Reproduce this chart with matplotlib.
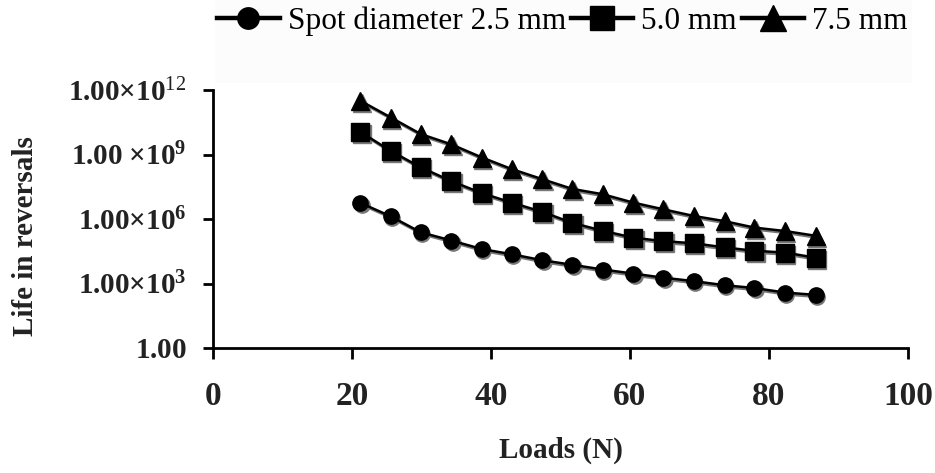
import matplotlib
matplotlib.use("Agg")
import matplotlib.pyplot as plt
import matplotlib.transforms as mtransforms
from matplotlib.patches import Rectangle
from matplotlib.ticker import FixedLocator, NullLocator

plt.rcParams['font.family'] = ['Liberation Serif', 'DejaVu Serif']
plt.rcParams['mathtext.fontset'] = 'custom'
plt.rcParams['mathtext.rm'] = 'Liberation Serif'
plt.rcParams['mathtext.bf'] = 'Liberation Serif:bold'
plt.rcParams['mathtext.it'] = 'Liberation Serif:italic'

loads = [21.2, 25.6, 29.9, 34.3, 38.7, 43.0, 47.4, 51.7, 56.1, 60.5,
         64.8, 69.2, 73.6, 77.9, 82.3, 86.7]
life_25 = [10**v for v in [6.75, 6.12, 5.38, 5.00, 4.60, 4.36, 4.08, 3.87,
                           3.65, 3.46, 3.27, 3.11, 2.92, 2.79, 2.58, 2.47]]
life_50 = [10**v for v in [10.05, 9.16, 8.40, 7.76, 7.20, 6.76, 6.33, 5.82,
                           5.45, 5.13, 4.97, 4.87, 4.68, 4.52, 4.44, 4.20]]
life_75 = [10**v for v in [11.50, 10.72, 9.95, 9.47, 8.86, 8.32, 7.85, 7.40,
                           7.15, 6.76, 6.45, 6.14, 5.90, 5.60, 5.44, 5.22]]

series = [
    (life_25, 'o', 11, 'Spot diameter 2.5 mm'),
    (life_50, 's', 12.5, '5.0 mm'),
    (life_75, '^', 13, '7.5 mm'),
]

ytick_vals = [1, 1e3, 1e6, 1e9, 1e12]
ytick_labels = [r'$\mathbf{1.00}$',
                r'$\mathbf{1.00{\times}10^{3}}$',
                r'$\mathbf{1.00{\times}10^{6}}$',
                r'$\mathbf{1.00\ {\times}10^{9}}$',
                r'$\mathbf{1.00{\times}10}^{12}$']
xtick_vals = [0, 20, 40, 60, 80, 100]

W, H = 935, 473
fig = plt.figure(figsize=(W / 100, H / 100), dpi=100)
fig.patches.append(Rectangle((215 / W, 1 - 83 / H), (912 - 215) / W, 83 / H,
                             transform=fig.transFigure, facecolor='#fcfcfc',
                             edgecolor='none', zorder=0))
ax = fig.add_axes([213 / W, 1 - 348 / H, (908 - 213) / W, (348 - 90) / H])
ax.set_facecolor('none')

shadow = mtransforms.offset_copy(ax.transData, fig=fig, x=1.5, y=-2.0, units='dots')
handles = []
for vals, mk, ms, lab in series:
    ax.plot(loads, vals, color='#777777', lw=1.8, marker=mk, ms=ms,
            transform=shadow, zorder=2, clip_on=False)
    h, = ax.plot(loads, vals, color='black', lw=1.8, marker=mk, ms=ms,
                 zorder=3, clip_on=False, label=lab)
    handles.append(h)

ax.set_yscale('log')
ax.set_ylim(1, 1e12)
ax.set_xlim(0, 100)
ax.yaxis.set_major_locator(FixedLocator(ytick_vals))
ax.yaxis.set_minor_locator(NullLocator())
ax.set_yticklabels(ytick_labels)
ax.set_xticks(xtick_vals)
ax.set_xticklabels([str(v) for v in xtick_vals], fontweight='bold')

for s in ['top', 'right']:
    ax.spines[s].set_visible(False)
for s in ['left', 'bottom']:
    ax.spines[s].set_linewidth(2.0)
    ax.spines[s].set_color('black')

ax.tick_params(axis='y', direction='out', length=7, width=2, pad=12,
               labelsize=21, labelcolor='#222222')
ax.tick_params(axis='x', direction='out', length=8, width=2, pad=16,
               labelsize=24, labelcolor='#222222')

ax.set_xlabel('Loads (N)', fontsize=21, fontweight='bold', color='#222222')
ax.xaxis.set_label_coords(0.5, -0.345)
ax.set_ylabel('Life in reversals', fontsize=21, fontweight='bold', color='#222222')
ax.yaxis.set_label_coords(-0.250, 0.434)

leg = fig.legend(handles=handles, loc='center left',
                 bbox_to_anchor=(217 / W, 1 - 21 / H), ncol=3, frameon=False,
                 fontsize=22.5, handlelength=2.0, handletextpad=0.26,
                 columnspacing=0.15, borderpad=0, borderaxespad=0,
                 markerscale=1.4)
for ln in leg.get_lines():
    ln.set_linewidth(3.2)

fig.savefig('out.png', dpi=100)
